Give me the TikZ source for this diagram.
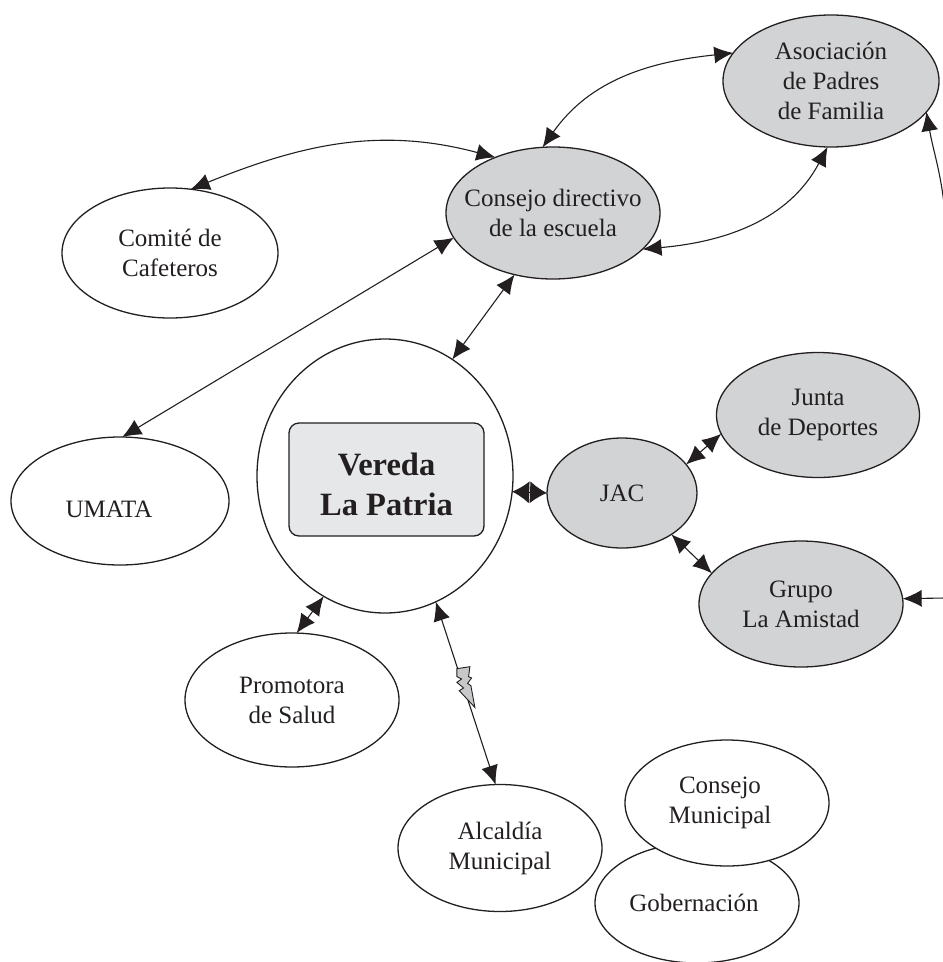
\documentclass[tikz,border=0pt]{standalone}
\usepackage{fontspec}
\setmainfont{Liberation Serif}
\usetikzlibrary{shapes.geometric,arrows.meta}
\definecolor{txt}{HTML}{231F20}
\definecolor{fillg}{HTML}{D1D3D4}
\definecolor{fillr}{HTML}{E6E7E8}
\definecolor{boltg}{HTML}{C7C8CA}
\begin{document}
\begin{tikzpicture}[x=1pt,y=1pt,
  shp/.style={ellipse, draw=txt, line width=1.3pt, inner sep=0pt, outer sep=0pt, fill=white},
  gshp/.style={shp, fill=fillg},
  lbl/.style={align=center, text=txt, inner sep=0pt, font=\fontsize{25}{30}\selectfont},
  blbl/.style={align=center, text=txt, inner sep=0pt, font=\fontsize{32.5}{40}\selectfont\bfseries},
  link/.style={draw=txt, line width=1.1pt, {Latex[length=19pt,width=17pt]}-{Latex[length=19pt,width=17pt]}},
  onelink/.style={draw=txt, line width=1.1pt, -{Latex[length=19pt,width=17pt]}},
  dia/.style={draw=txt, line width=1.1pt, {Latex[length=17pt,width=22pt]}-{Latex[length=17pt,width=22pt]}}]
\useasboundingbox (0,0) rectangle (943,-962);

% nodes
\node[gshp, minimum width=216pt, minimum height=132pt,
  label={[lbl]center:Asociación\\de Padres\\de Familia}] (as) at (831,-81) {};
\node[gshp, minimum width=214pt, minimum height=132pt,
  label={[lbl]center:Consejo directivo\\de la escuela}] (cd) at (553,-213) {};
\node[shp, minimum width=216pt, minimum height=130pt,
  label={[lbl]center:Comité de\\Cafeteros}] (cc) at (170,-253) {};
\node[shp, minimum width=218pt, minimum height=128pt,
  label={[lbl,xshift=-11pt,yshift=-8pt]center:UMATA}] (um) at (120,-501) {};
\node[shp, minimum width=256pt, minimum height=274pt] (vp) at (385,-476) {};
\node[draw=txt, line width=1.3pt, fill=fillr, rounded corners=10pt, inner sep=0pt,
  minimum width=195pt, minimum height=113pt,
  label={[blbl,yshift=-5pt]center:Vereda\\La Patria}] (vr) at (386.5,-479.5) {};
\node[gshp, minimum width=150pt, minimum height=110pt,
  label={[lbl]center:JAC}] (jac) at (622,-493) {};
\node[gshp, minimum width=203pt, minimum height=125pt,
  label={[lbl]center:Junta\\de Deportes}] (jd) at (818,-415) {};
\node[gshp, minimum width=204pt, minimum height=126pt,
  label={[lbl]center:Grupo\\La Amistad}] (gl) at (801,-604) {};
\node[shp, minimum width=214pt, minimum height=134pt,
  label={[lbl]center:Promotora\\de Salud}] (ps) at (292,-700) {};
\node[shp, minimum width=204pt, minimum height=127pt,
  label={[lbl]center:Alcaldía\\Municipal}] (am) at (500,-848) {};
\node[shp, minimum width=204pt, minimum height=120pt,
  label={[lbl,xshift=-3pt]center:Gobernación}] (gob) at (697,-903) {};
\node[shp, minimum width=204pt, minimum height=126pt,
  label={[lbl,xshift=-7pt]center:Consejo\\Municipal}] (cm) at (727,-803) {};

\coordinate (e1) at (945,-214);
\coordinate (e2) at (945,-598);

% connectors
\draw[link] (cd.99) to[out=55,in=186] (as.164);
\draw[link] (cd.-22) to[out=5,in=-118] (as.-93);
\draw[link] (cc.72) to[out=22,in=165] (cd.136);
\draw[link] (um.88) -- (cd.194);
\draw[link] (vp.60) -- (cd.238);
\draw[dia] (vp.-7.6) -- (jac.180);
\draw[link] (jac.24) -- (jd.191.5);
\draw[link] (jac.-40) -- (gl.161);
\draw[link] (vp.243.6) -- (ps.86.7);
\draw[link] (vp.-68) -- coordinate[pos=0.47] (bolt) (am.94.5);
\draw[onelink] (e1) to[out=95,in=-80] (as.-18);
\draw[onelink] (e2) -- (gl.3);

% lightning bolt
\draw[shift={(bolt)}, draw=txt, fill=boltg, line width=0.9pt, line join=miter]
  (-7,19) -- (6,21) -- (4.7,11) -- (7.7,9.7) -- (3.7,4.3) -- (7,2) -- (11,-19.7)
  -- (-4.7,-3) -- (-0.3,-0.3) -- (-7,5.3) -- (-2.3,8.7) -- (-7,11) -- cycle;
\end{tikzpicture}
\end{document}
